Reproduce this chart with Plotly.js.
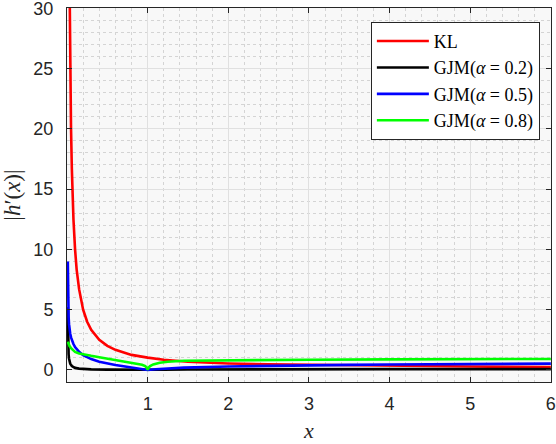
<!DOCTYPE html>
<html>
<head>
<meta charset="utf-8">
<script src="https://cdn.plot.ly/plotly-3.0.1.min.js"></script>
<style>
  html, body { margin: 0; padding: 0; background: #ffffff; }
  #chart { width: 556px; height: 444px; }
</style>
</head>
<body>
<div id="chart"></div>
<script>
// ---- data ----
const seriesNames = ["KL", "GJM(<i>α</i> = 0.2)", "GJM(<i>α</i> = 0.5)", "GJM(<i>α</i> = 0.8)"];

const klX = [0.03, 0.035, 0.04, 0.05, 0.06, 0.07, 0.08, 0.1, 0.12, 0.15, 0.2, 0.25, 0.3, 0.4, 0.5, 0.6, 0.7, 0.8, 1.0, 1.2, 1.5, 2.0, 2.5, 3.0, 3.5, 4.0, 5.0, 6.0];
const klY = [33.3, 28.6, 25, 20, 16.7, 14.3, 12.5, 10, 8.3, 6.7, 5, 4, 3.33, 2.5, 2, 1.67, 1.43, 1.25, 1.02, 0.85, 0.68, 0.54, 0.47, 0.42, 0.37, 0.34, 0.28, 0.23];

const gjm02X = [0.01, 0.012, 0.014, 0.017, 0.02, 0.025, 0.03, 0.04, 0.06, 0.08, 0.1, 0.15, 0.2, 0.3, 0.5, 0.8, 1.0, 1.2, 1.5, 2, 3, 4, 6];
const gjm02Y = [5.2, 3.6, 2.5, 1.7, 1.3, 0.95, 0.75, 0.52, 0.32, 0.22, 0.17, 0.11, 0.08, 0.05, 0.03, 0.01, 0.0, 0.02, 0.035, 0.05, 0.06, 0.065, 0.07];

const gjm05X = [0.01, 0.011, 0.012, 0.014, 0.017, 0.02, 0.025, 0.03, 0.04, 0.05, 0.065, 0.08, 0.1, 0.15, 0.2, 0.3, 0.4, 0.5, 0.6, 0.7, 0.8, 0.9, 1.0, 1.1, 1.2, 1.45, 2, 2.5, 3, 3.5, 4, 5, 6];
const gjm05Y = [9.0, 7.8, 6.8, 5.8, 5.0, 4.4, 3.8, 3.4, 3.0, 2.7, 2.4, 2.15, 1.9, 1.5, 1.22, 0.9, 0.68, 0.53, 0.41, 0.3, 0.2, 0.1, 0.0, 0.06, 0.11, 0.19, 0.29, 0.35, 0.39, 0.42, 0.45, 0.49, 0.52];

const gjm08X = [0.01, 0.02, 0.03, 0.05, 0.075, 0.1, 0.15, 0.23, 0.3, 0.4, 0.48, 0.6, 0.73, 0.85, 0.93, 0.97, 0.99, 1.0, 1.01, 1.03, 1.07, 1.15, 1.25, 1.45, 2, 3, 4, 5, 6];
const gjm08Y = [2.35, 2.15, 2.0, 1.8, 1.62, 1.5, 1.37, 1.25, 1.17, 1.06, 0.97, 0.84, 0.66, 0.53, 0.43, 0.32, 0.18, 0.02, 0.18, 0.32, 0.46, 0.6, 0.68, 0.76, 0.8, 0.85, 0.88, 0.9, 0.91];

const xTickVals = [1, 2, 3, 4, 5, 6];
const yTickVals = [0, 5, 10, 15, 20, 25, 30];

// ---- styling ----
const colors = ["#ff0000", "#000000", "#0000ff", "#00ff00"];
const xs = [klX, gjm02X, gjm05X, gjm08X];
const ys = [klY, gjm02Y, gjm05Y, gjm08Y];

const traces = seriesNames.map((name, i) => ({
  x: xs[i], y: ys[i], name: name, type: "scatter", mode: "lines",
  line: { color: colors[i], width: 2.6 }
}));

const axisColor = "#262626";
const tickFont = { family: "Liberation Sans, Arial, sans-serif", size: 18, color: axisColor };
const serif = "Liberation Serif, Times New Roman, serif";

const layout = {
  width: 556, height: 444,
  margin: { l: 67, r: 5, t: 8, b: 62 },
  paper_bgcolor: "#ffffff",
  plot_bgcolor: "#f8f8f8",
  showlegend: true,
  xaxis: {
    range: [0, 6.002],
    tickvals: xTickVals,
    ticktext: xTickVals.map(String),
    ticks: "inside", ticklen: 5, tickcolor: axisColor,
    showline: true, linecolor: axisColor, linewidth: 1, mirror: "ticks",
    showgrid: true, gridcolor: "#e0e0e0", gridwidth: 1,
    zeroline: false,
    tickfont: tickFont,
    ticklabelstandoff: 5,
    ticklabeloverflow: "allow",
    minor: { dtick: 0.2, showgrid: true, gridcolor: "#d4d4d4", griddash: "dot", gridwidth: 1, ticks: "" },
    title: { text: "<i>x</i>", font: { family: serif, size: 22, color: axisColor }, standoff: 10 }
  },
  yaxis: {
    range: [-1, 30.02],
    tickvals: yTickVals,
    ticktext: yTickVals.map(String),
    ticks: "inside", ticklen: 5, tickcolor: axisColor,
    showline: true, linecolor: axisColor, linewidth: 1, mirror: "ticks",
    showgrid: true, gridcolor: "#e0e0e0", gridwidth: 1,
    zeroline: false,
    tickfont: tickFont,
    ticklabelstandoff: 9,
    ticklabeloverflow: "allow",
    minor: { dtick: 1, showgrid: true, gridcolor: "#d4d4d4", griddash: "dot", gridwidth: 1, ticks: "" },
    title: { text: "|<i>h</i>′(<i>x</i>)|", font: { family: serif, size: 23, color: axisColor }, standoff: 6 }
  },
  legend: {
    x: 0.977, y: 0.963, xanchor: "right", yanchor: "top",
    bgcolor: "#ffffff", bordercolor: axisColor, borderwidth: 1,
    font: { family: serif, size: 18, color: "#000000" },
    itemwidth: 52, tracegroupgap: 0
  }
};

Plotly.newPlot("chart", traces, layout, { displayModeBar: false, staticPlot: true });
</script>
</body>
</html>
